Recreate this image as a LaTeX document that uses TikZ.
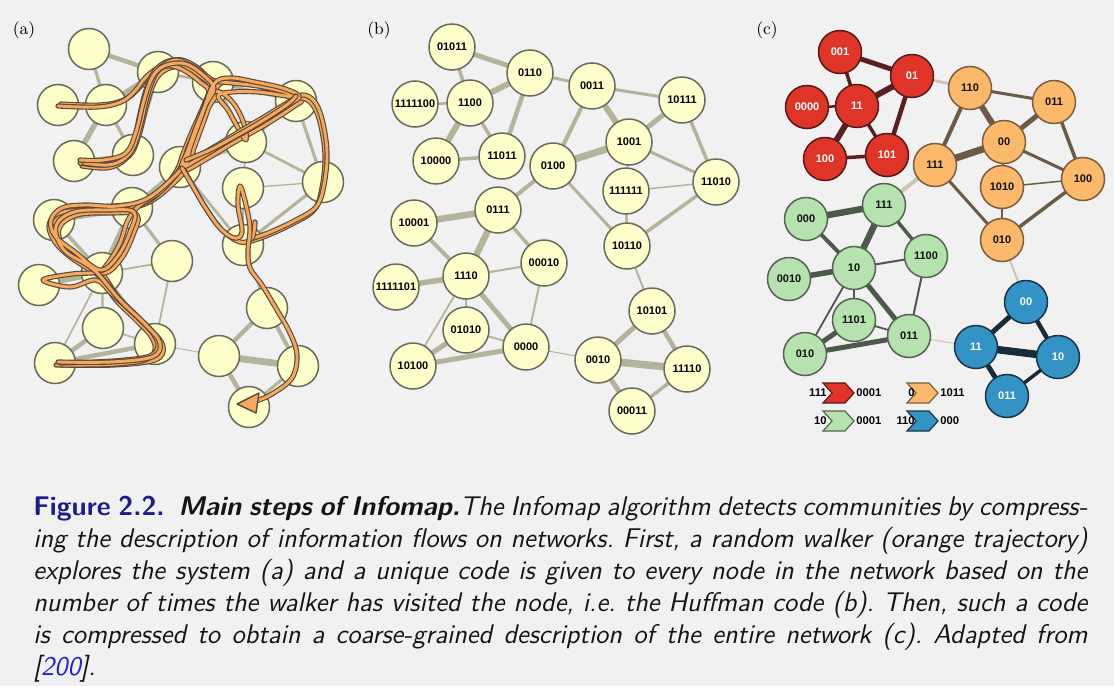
\documentclass[tikz,border=0pt]{standalone}
\usepackage{fontspec}
\newfontfamily\nodefont{Liberation Sans}
\definecolor{pagebg}{HTML}{F1F1F1}
\definecolor{nodey}{HTML}{FFFFCC}
\definecolor{nodeyb}{HTML}{6A6A5A}
\definecolor{edgey}{HTML}{B4B49B}
\definecolor{fillr}{HTML}{DF3528}
\definecolor{bordr}{HTML}{5A1818}
\definecolor{txtr}{HTML}{FFFFFF}
\definecolor{fillo}{HTML}{FDB96B}
\definecolor{bordo}{HTML}{7A5E3E}
\definecolor{txto}{HTML}{111111}
\definecolor{fillg}{HTML}{B6E2AF}
\definecolor{bordg}{HTML}{52654F}
\definecolor{txtg}{HTML}{111111}
\definecolor{fillb}{HTML}{3393C5}
\definecolor{bordb}{HTML}{1B3447}
\definecolor{txtb}{HTML}{FFFFFF}
\definecolor{edger}{HTML}{5A2020}
\definecolor{edgeo}{HTML}{6B5A44}
\definecolor{edgeg}{HTML}{4C5A49}
\definecolor{edgeb}{HTML}{182B38}
\definecolor{edgex}{HTML}{C6C9B0}
\definecolor{walkfill}{HTML}{F6A95E}
\definecolor{walkline}{HTML}{5B4A3C}
\definecolor{figblue}{HTML}{1C1C8C}
\definecolor{citeblue}{HTML}{2020D0}
\definecolor{captxt}{HTML}{141414}
\pgfdeclarelayer{back}
\pgfdeclarelayer{links}
\pgfsetlayers{back,links,main}
% one strand of the trajectory: dark rim, then orange core
\newcommand\walkstrand[2][]{%
  \draw[walkline, line width=2.6pt, line cap=round, line join=round, #1]
    plot[smooth, tension=0.6] coordinates {#2};
  \draw[walkfill, line width=1.45pt, line cap=round, line join=round, #1]
    plot[smooth, tension=0.6] coordinates {#2};}
\begin{document}
\begin{tikzpicture}[x=0.5pt, y=-0.5pt,
  vertex/.style={circle, inner sep=0pt, line width=0.75pt,
    font=\nodefont\bfseries\fontsize{5.5}{6}\selectfont},
  anode/.style={vertex, minimum size=20.5pt, fill=nodey, draw=nodeyb},
  bnode/.style={vertex, minimum size=23pt, fill=nodey, draw=nodeyb},
  cnode/.style={vertex, minimum size=21.5pt},
  panel/.style={inner sep=0pt, font=\fontsize{8.5}{10}\selectfont},
  legtext/.style={inner sep=0pt, font=\nodefont\bfseries\fontsize{5.6}{6}\selectfont},
  chev/.style={line width=0.6pt, line join=miter}]
\useasboundingbox (0,0) rectangle (1114,686);
\begin{pgfonlayer}{back}
  \fill[pagebg] (0,0) rectangle (1114,686);
\end{pgfonlayer}

% panel labels
\node[panel] (la) at (24,30) {(a)};
\node[panel] (lb) at (379,30) {(b)};
\node[panel] (lc) at (767,30) {(c)};

% ---------- (a) network with the walker's trajectory ----------
\foreach \i/\x/\y in {1/89/49, 2/158/72, 3/213/82, 4/296/101, 5/58/105,
  6/106/105, 7/246/142, 8/74/161, 9/133/155, 10/180/167, 11/323/182,
  12/243/188, 13/54/220, 14/132/208, 15/243/245, 16/39/285, 17/102/273,
  18/172/261, 19/103/328, 20/155/344, 21/55/363, 22/267/308, 23/219/356,
  24/298/366, 25/249/407}
  \node[anode] (a\i) at (\x,\y) {};

% ---------- (b) Huffman code of each node ----------
\foreach \i/\x/\y/\t in {1/452/47/01011, 2/530/73/0110, 3/592/86/0011,
  4/682/100/10111, 5/415/104/1111100, 6/470/103/1100, 7/629/142/1001,
  8/436/161/10000, 9/502/156/11011, 10/553/166/0100, 11/716/182/11010,
  12/626/191/111111, 13/414/223/10001, 14/498/210/0111, 15/627/246/10110,
  16/396/287/1111101, 17/466/276/1110, 18/544/263/00010, 19/466/330/01010,
  20/526/347/0000, 21/413/366/10100, 22/652/311/10101, 23/598/360/0010,
  24/687/369/11110, 25/632/411/00011}
  \node[bnode] (b\i) at (\x,\y) {\t};

% ---------- (c) two-level code of the modules ----------
\foreach \i/\x/\y/\t/\m in {1/840/52/001/r, 2/912/76/01/r, 3/970/88/110/o,
  4/1054/102/011/o, 5/807/107/0000/r, 6/857/106/11/r, 7/1004/142/00/o,
  8/825/159/100/r, 9/887/155/101/r, 10/935/165/111/o, 11/1083/179/100/o,
  12/1002/187/1010/o, 13/806/219/000/g, 14/884/205/111/g, 15/1002/240/010/o,
  16/789/279/0010/g, 17/854/268/10/g, 18/926/256/1100/g, 19/854/320/1101/g,
  20/909/336/011/g, 21/805/354/010/g, 22/1026/302/00/b, 23/976/347/11/b,
  24/1058/357/10/b, 25/1007/396/011/b}
  \node[cnode, fill=fill\m, draw=bord\m, text=txt\m] (c\i) at (\x,\y) {\t};

% links: from/to/width in px/module of the link
\begin{pgfonlayer}{links}
\foreach \u/\v/\w/\m in {1/2/5/r, 1/6/3.5/r, 5/6/2.5/r, 6/2/6/r, 2/9/4.5/r,
  6/8/6/r, 6/9/3.5/r, 8/9/3.5/r, 2/3/3/x, 3/4/3/o, 3/10/4/o, 3/7/6/o,
  4/7/5/o, 4/11/3.5/o, 7/10/7/o, 7/11/3/o, 7/12/2/o, 12/11/1.5/o,
  10/14/4/x, 10/15/3/o, 11/15/3.5/o, 12/15/2.5/o, 13/14/6.5/g, 13/17/4/g,
  14/17/6.5/g, 14/18/3.5/g, 16/17/5.5/g, 17/18/2/g, 17/19/2.5/g,
  17/20/5/g, 17/21/1.8/g, 18/20/2/g, 19/21/5/g, 19/20/1.8/g, 21/20/5/g,
  20/23/1/x, 15/22/2/x, 22/23/5/b, 22/24/4.5/b, 23/24/7.5/b, 23/25/5/b,
  25/24/3.5/b}
{
  \draw[edgey, line width=\w*0.45pt] (a\u.center) -- (a\v.center);
  \draw[edgey, line width=\w*0.5pt] (b\u.center) -- (b\v.center);
  \draw[edge\m, line width=\w*0.5pt] (c\u.center) -- (c\v.center);
}
\end{pgfonlayer}

% the random walker's trajectory over (a)
\def\walkA{(61,104) (100,105) (124,100) (138,89) (148,76) (160,67) (175,64)
  (190,70) (203,80) (212,90) (203,112) (194,132) (186,152) (180,168)
  (165,188) (145,202) (115,206) (82,208) (60,212) (52,224) (58,240) (72,254)
  (90,266) (103,275) (118,297) (138,317) (154,334) (158,348) (148,358)
  (120,362) (90,363) (59,363)}
\def\walkB{(82,166) (106,168) (122,162) (132,149) (139,126) (145,100)
  (152,80) (160,69) (174,63) (188,68) (200,76) (210,86) (202,110) (192,136)
  (184,158) (190,162) (212,150) (235,136) (262,120) (285,106) (300,98)
  (312,104) (320,122) (325,155) (322,188) (314,210) (292,224) (266,236)
  (248,242)}
\def\walkC{(80,163) (104,165) (124,158) (134,140) (140,114) (146,90)
  (154,72) (166,62) (182,60) (198,68) (212,80) (232,83) (258,86) (285,92)
  (298,98) (286,96) (258,92) (232,92) (218,96) (228,110) (238,128)
  (246,140) (244,124) (234,104) (220,92) (210,96) (200,120) (188,150)
  (178,172) (160,192) (140,205) (128,220) (120,243) (108,263) (98,272)
  (72,274) (43,280) (70,287) (96,280) (112,294) (134,314) (152,332)
  (158,346) (150,356) (125,360) (95,362) (60,363)}
\def\walkD{(80,160) (104,160) (126,153) (136,132) (143,104) (150,82)
  (158,70) (170,64) (186,64) (202,74) (214,88) (206,104) (196,128)
  (188,150) (182,167) (200,158) (230,140) (262,122) (290,104) (299,96)
  (282,88) (255,82) (230,78) (214,84) (202,115) (190,148) (184,166)
  (150,197) (118,206) (85,205) (62,208) (51,220) (55,236) (75,252)
  (100,270) (118,256) (130,232) (134,212) (108,210) (74,212) (56,226)
  (64,250) (94,270) (120,300) (146,325) (160,343) (152,357) (110,362)
  (58,362)}
\walkstrand{\walkA}
\walkstrand[shift={(3,3)}]{\walkD}
\walkstrand{\walkB}
\walkstrand[shift={(-3,2)}]{\walkA}
\walkstrand{\walkC}
\walkstrand[shift={(2,-3)}]{\walkB}
\walkstrand{\walkD}
\walkstrand{(184,170) (194,188) (207,210) (222,230) (240,242) (252,238)
  (255,222)}
\walkstrand{(186,160) (210,150) (236,136) (262,121) (288,104) (296,96)}
\walkstrand{(182,168) (192,185) (205,207) (220,228) (234,238) (242,232)
  (238,205) (240,186) (246,205) (250,228) (248,250) (250,268) (262,285)
  (277,310) (290,333) (297,355) (292,378) (272,394) (256,401)}
\draw[walkline, fill=walkfill, line width=0.7pt, line join=round]
  (237,404) -- (259,393) -- (256,413) -- cycle;

% ---------- legend of module codes ----------
\foreach \lx/\ly/\m in {823/383/r, 907/383/o, 823/411/g, 907/411/b}
  \draw[chev, fill=fill\m, draw=bord\m] (\lx,\ly) -- ++(22,0) -- ++(9,10)
    -- ++(-9,10) -- ++(-22,0) -- ++(9,-10) -- cycle;
\node[legtext, anchor=east] (lr1) at (827,393) {111};
\node[legtext, anchor=west] (lr2) at (856,393) {0001};
\node[legtext, anchor=east] (lo1) at (915,393) {0};
\node[legtext, anchor=west] (lo2) at (940,393) {1011};
\node[legtext, anchor=east] (lg1) at (827,421) {10};
\node[legtext, anchor=west] (lg2) at (856,421) {0001};
\node[legtext, anchor=east] (lb1) at (915,421) {110};
\node[legtext, anchor=west] (lb2) at (940,421) {000};

% ---------- caption ----------
\node[anchor=north west, inner sep=0pt, text width=527pt, align=justify,
  text=captxt, font=\sffamily\fontsize{13.5}{16}\selectfont] (caption)
  at (33,496) {\frenchspacing\hyphenpenalty=10000
  {\bfseries\color{figblue}Figure 2.2.}\ \ {\bfseries\itshape Main steps of
  Infomap.}\itshape The Infomap algorithm detects communities by
  compress-\linebreak ing the description of information flows on networks.
  First, a random walker (orange trajectory)\linebreak explores the system
  (a) and a unique code is given to every node in the network based on
  the\linebreak number of times the walker has visited the node, i.e. the
  Huffman code (b). Then, such a code\linebreak is compressed to obtain a
  coarse-grained description of the entire network (c). Adapted
  from\linebreak{}[{\color{citeblue}200}].};
\end{tikzpicture}
\end{document}
